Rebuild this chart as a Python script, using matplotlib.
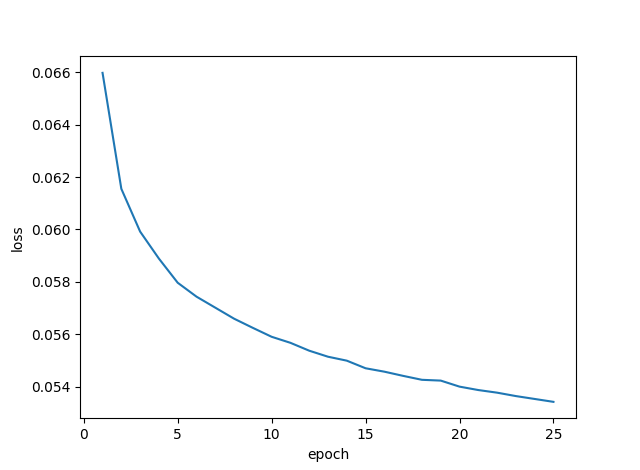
import numpy as np
import matplotlib
matplotlib.use("Agg")
import matplotlib.pyplot as plt

epochs = list(range(1, 26))
loss = [0.06597, 0.06155, 0.05992, 0.05889, 0.05797, 0.05744, 0.05702, 0.05660,
        0.05625, 0.05591, 0.05568, 0.05538, 0.05515, 0.05500, 0.05471, 0.05458,
        0.05442, 0.05427, 0.05424, 0.05401, 0.05388, 0.05378, 0.05365, 0.05354,
        0.05343]

fig = plt.figure(figsize=(6.4, 4.7), dpi=100)
plt.plot(epochs, loss)
plt.xlabel("epoch")
plt.ylabel("loss")
fig.savefig("out.png")
